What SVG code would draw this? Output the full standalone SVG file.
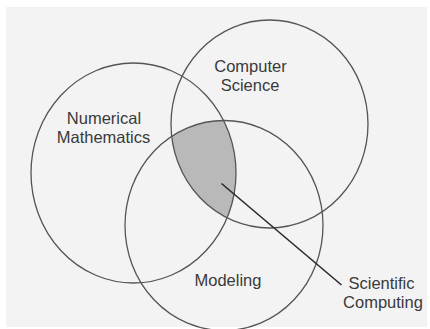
<svg xmlns="http://www.w3.org/2000/svg" width="430" height="329" viewBox="0 0 430 329">
<style>
.c{fill:none;stroke:#555;stroke-width:1.3}
.t{font-family:"Liberation Sans",Arial,sans-serif;font-size:16.5px;fill:#3a3a3a;text-anchor:middle}
.l{stroke:#2a2a2a;stroke-width:1.6;fill:none}
</style>
<defs>
<clipPath id="cpNM"><ellipse cx="133.5" cy="173" rx="102.5" ry="110"/></clipPath>
<clipPath id="cpCS"><ellipse cx="269.5" cy="124" rx="98.5" ry="104"/></clipPath>
</defs>
<rect x="0" y="0" width="430" height="329" fill="#ffffff"/>
<rect x="6" y="7" width="421" height="320" fill="#f3f3f3"/>
<g id="shaded" clip-path="url(#cpNM)">
<g clip-path="url(#cpCS)">
<ellipse cx="224" cy="225.5" rx="99" ry="105" fill="#b9b9b9"/>
</g>
</g>
<g id="numerical-mathematics">
<ellipse class="c" cx="133.5" cy="173" rx="102.5" ry="110"/>
<text class="t" x="104" y="124">Numerical</text>
<text class="t" x="103.5" y="143">Mathematics</text>
</g>
<g id="computer-science">
<ellipse class="c" cx="269.5" cy="124" rx="98.5" ry="104"/>
<text class="t" x="250.5" y="71.5">Computer</text>
<text class="t" x="250" y="91">Science</text>
</g>
<g id="modeling">
<ellipse class="c" cx="224" cy="225.5" rx="99" ry="105"/>
<text class="t" x="228" y="286">Modeling</text>
</g>
<g id="connectors">
<line class="l" x1="221.5" y1="183.5" x2="341.5" y2="285"/>
</g>
<g id="scientific-computing">
<text class="t" x="381.5" y="289">Scientific</text>
<text class="t" x="383" y="307.5">Computing</text>
</g>
</svg>
